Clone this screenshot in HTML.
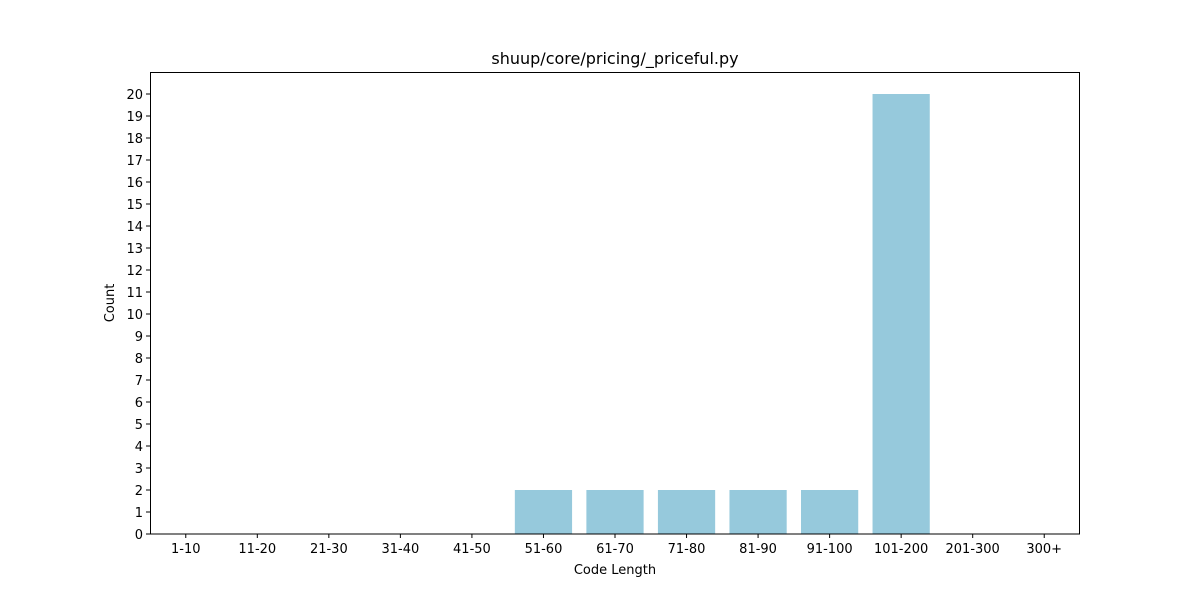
<!DOCTYPE html>
<html><head><meta charset="utf-8"><style>
body{margin:0;background:#fff}
svg text{font-family:"DejaVu Sans","Liberation Sans",sans-serif;fill:#000}
</style></head><body>
<svg id="chart" width="1200" height="600" xmlns="http://www.w3.org/2000/svg">
<rect width="1200" height="600" fill="#fff"/>
<text x="615" y="64" font-size="16" text-anchor="middle">shuup/core/pricing/_priceful.py</text>
<g id="bars"></g>
<g id="axes"></g>
<rect x="150.5" y="72.5" width="929" height="461.5" fill="none" stroke="#000" stroke-width="1"/>
<text x="615" y="574" font-size="13" text-anchor="middle">Code Length</text>
<text transform="translate(114,303) rotate(-90)" font-size="13" text-anchor="middle">Count</text>
</svg>
<script>
const categories = ["1-10","11-20","21-30","31-40","41-50","51-60","61-70","71-80","81-90","91-100","101-200","201-300","300+"];
const counts = [0,0,0,0,0,2,2,2,2,2,20,0,0];
const yTicks = [0,1,2,3,4,5,6,7,8,9,10,11,12,13,14,15,16,17,18,19,20];
const L=150,R=1080,T=72,B=534,YMAX=21;
const ns="http://www.w3.org/2000/svg";
const xs=i=>L+(i+0.5)*(R-L)/categories.length;
const ys=v=>B-v*(B-T)/YMAX;
const bw=0.8*(R-L)/categories.length;
const bars=document.getElementById('bars'), axes=document.getElementById('axes');
function mk(t,a,p){const e=document.createElementNS(ns,t);for(const k in a)e.setAttribute(k,a[k]);p.appendChild(e);return e;}
counts.forEach((v,i)=>{
  const r=mk('rect',{x:xs(i)-bw/2,y:ys(v),width:bw,height:B-ys(v),fill:'#96c9dc'},bars);
  
  
});
categories.forEach((c,i)=>{
  const x=xs(i);
  mk('line',{x1:x,x2:x,y1:B,y2:B+4,stroke:'#000'},axes);
  const t=mk('text',{x:x,y:B+19,'font-size':13,'text-anchor':'middle'},axes);
  t.textContent=c;
  
  
});
yTicks.forEach(v=>{
  const y=ys(v);
  mk('line',{x1:L-4,x2:L,y1:y,y2:y,stroke:'#000'},axes);
  const t=mk('text',{x:L-7,y:y+5,'font-size':13,'text-anchor':'end'},axes);
  t.textContent=v;
  
  
});
</script>
</body></html>
